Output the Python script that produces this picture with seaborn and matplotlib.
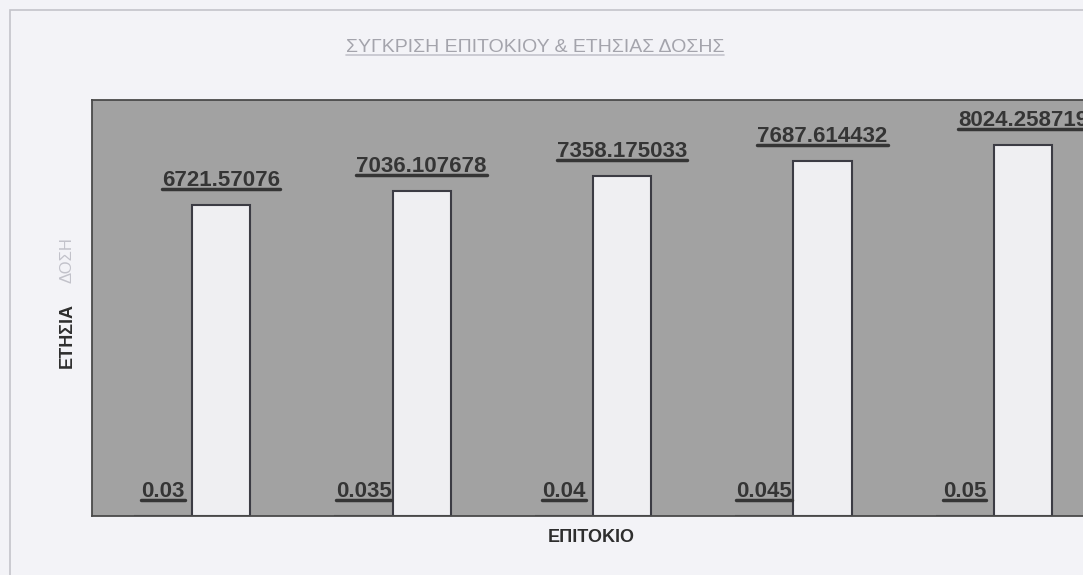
import pandas as pd
import matplotlib.pyplot as plt
import seaborn as sns
from matplotlib.lines import Line2D
from matplotlib.patches import Rectangle

# data
categories = [1, 2, 3, 4, 5]
rates = [0.03, 0.035, 0.04, 0.045, 0.05]
payments = [6721.57076, 7036.107678, 7358.175033, 7687.614432, 8024.258719]
rate_labels = ["0.03", "0.035", "0.04", "0.045", "0.05"]
payment_labels = ["6721.57076", "7036.107678", "7358.175033", "7687.614432", "8024.258719"]

title = "ΣΥΓΚΡΙΣΗ ΕΠΙΤΟΚΙΟΥ & ΕΤΗΣΙΑΣ ΔΟΣΗΣ"
xlabel = "ΕΠΙΤΟΚΙΟ"

df = pd.DataFrame({
    "cat": categories * 2,
    "series": ["ΕΠΙΤΟΚΙΟ"] * 5 + ["ΕΤΗΣΙΑ ΔΟΣΗ"] * 5,
    "value": rates + payments,
})

sns.set_style("white")
plt.rcParams['font.family'] = ['Liberation Sans', 'DejaVu Sans']

fig = plt.figure(figsize=(10.83, 5.75), dpi=100)
fig.patch.set_facecolor("#f3f3f7")

# outer chart frame (cut on the right / bottom like the scan)
fig.add_artist(Rectangle((10 / 1083, -0.2), 1.2, 1.2 - 10 / 575,
                         transform=fig.transFigure, fill=False,
                         edgecolor="#c4c4ca", linewidth=1.2))

ax = fig.add_axes([92 / 1083, 59 / 575, 1002 / 1083, 416 / 575])
ax.set_facecolor("#a2a2a2")

sns.barplot(data=df, x="cat", y="value", hue="series", ax=ax,
            palette=["#eeeef3", "#eeeef3"], width=0.58, gap=0,
            edgecolor="#3c3c44", linewidth=1.5, legend=False)

ax.set_ylim(0, 9000)
ax.set_xlim(-0.5, 4.5)
ax.set_xticks([])
ax.set_yticks([])
ax.set_xlabel("")
ax.set_ylabel("")
for side in ["left", "top", "bottom", "right"]:
    ax.spines[side].set_color("#4a4a4a")
    ax.spines[side].set_linewidth(1.3)

lab_kw = dict(fontsize=16, fontweight="bold", color="#353535")
txts = []
txts += ax.bar_label(ax.containers[0], labels=rate_labels, padding=10, **lab_kw)
txts += ax.bar_label(ax.containers[1], labels=payment_labels, padding=10, **lab_kw)

ttl = fig.text(535 / 1083, 1 - 47 / 575, title, ha="center", va="center",
               fontsize=14, color="#a4a4ac")
xl = fig.text(591 / 1083, 1 - 537 / 575, xlabel, ha="center", va="center",
              fontsize=13, fontweight="bold", color="#2e2e2e")
fig.text(67 / 1083, 1 - 336 / 575, "ΕΤΗΣΙΑ", rotation=90, ha="center",
         va="center", fontsize=13, fontweight="bold", color="#2e2e2e")
fig.text(67 / 1083, 1 - 260 / 575, "ΔΟΣΗ", rotation=90, ha="center",
         va="center", fontsize=12, color="#c2c2ca")

# underline the data labels, just under the baseline
fig.canvas.draw()
r = fig.canvas.get_renderer()
H = fig.bbox.height
W = fig.bbox.width
for t in txts:
    bb = t.get_window_extent(r)
    y = bb.y0 + 2
    fig.add_artist(Line2D([bb.x0 / W, bb.x1 / W], [y / H, y / H],
                          transform=fig.transFigure, color="#353535", lw=2.5))
bb = ttl.get_window_extent(r)
fig.add_artist(Line2D([bb.x0 / W, bb.x1 / W], [(bb.y0 + 1) / H] * 2,
                      transform=fig.transFigure, color="#c4c4cc", lw=1.2))

fig.savefig("out.png", dpi=100, facecolor=fig.get_facecolor())
